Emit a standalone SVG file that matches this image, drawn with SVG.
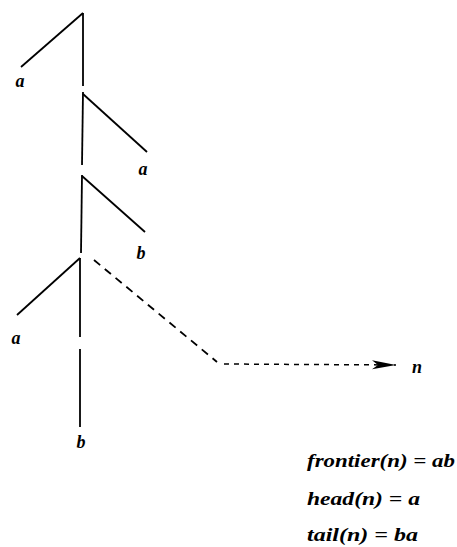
<svg xmlns="http://www.w3.org/2000/svg" width="457" height="547" viewBox="0 0 457 547">
<style>
.ln{stroke:#000;stroke-width:1.8;fill:none;stroke-linecap:butt}
.lbl{font-family:"Liberation Serif","Times New Roman",serif;font-style:italic;font-weight:bold;font-size:18px;fill:#000}
.eq{font-family:"Liberation Serif","Times New Roman",serif;font-style:italic;font-weight:bold;font-size:19px;fill:#000}
</style>
<defs>
<marker id="ah" viewBox="0 0 24 10" refX="24" refY="5" markerWidth="24" markerHeight="10" markerUnits="userSpaceOnUse" orient="auto">
<path d="M0,0.5 L24,5 L0,9.5 L6,5 Z" fill="#000"/>
</marker>
</defs>
<g id="edges">
<line class="ln" x1="83" y1="13" x2="83" y2="86"/>
<line class="ln" x1="83" y1="92" x2="82" y2="165"/>
<line class="ln" x1="82" y1="175" x2="81" y2="253"/>
<line class="ln" x1="83" y1="13" x2="21" y2="67"/>
<line class="ln" x1="83" y1="94" x2="147" y2="152"/>
<line class="ln" x1="82" y1="176" x2="145" y2="232"/>
<line class="ln" x1="80" y1="258" x2="17" y2="315"/>
<line class="ln" x1="80" y1="258" x2="80" y2="337"/>
<line class="ln" x1="80" y1="349" x2="80" y2="427"/>
<line class="ln" x1="94" y1="260" x2="217" y2="362" stroke-width="2.2" stroke-dasharray="8,6"/>
<line x1="224" y1="364" x2="396" y2="365" stroke="#000" stroke-width="1.5" stroke-dasharray="5,5" marker-end="url(#ah)"/>
</g>
<g id="n1"><text class="lbl" x="20" y="87" text-anchor="middle">a</text></g>
<g id="n2"><text class="lbl" x="143" y="175" text-anchor="middle">a</text></g>
<g id="n3"><text class="lbl" x="141" y="259" text-anchor="middle">b</text></g>
<g id="n4"><text class="lbl" x="16" y="344" text-anchor="middle">a</text></g>
<g id="n5"><text class="lbl" x="81" y="448" text-anchor="middle">b</text></g>
<g id="n6"><text class="lbl" x="417" y="373" text-anchor="middle">n</text></g>
<g id="eqs">
<text class="eq" x="307" y="467" textLength="148" lengthAdjust="spacingAndGlyphs">frontier(n) = ab</text>
<text class="eq" x="307" y="505" textLength="113" lengthAdjust="spacingAndGlyphs">head(n) = a</text>
<text class="eq" x="307" y="541" textLength="111" lengthAdjust="spacingAndGlyphs">tail(n) = ba</text>
</g>
</svg>
